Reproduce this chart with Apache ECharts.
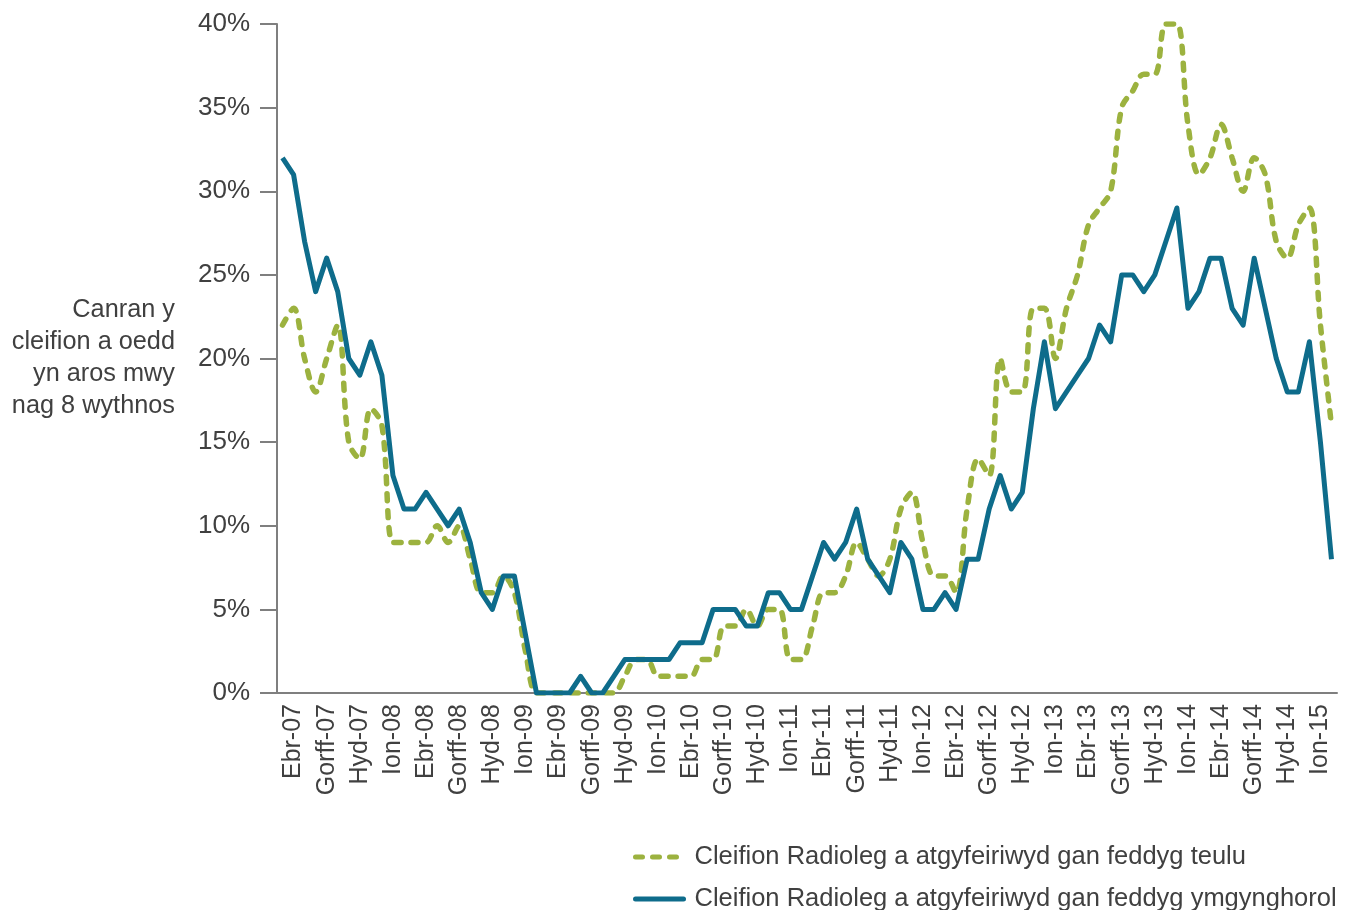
<!DOCTYPE html>
<html>
<head>
<meta charset="utf-8">
<title>Cleifion Radioleg</title>
<script src="https://cdn.jsdelivr.net/npm/echarts@6/dist/echarts.min.js"></script>
<style>
  html, body { margin: 0; padding: 0; background: #fff; }
  #chart { width: 1349px; height: 910px; }
</style>
</head>
<body>
<div id="chart"></div>
<script>
// months Maw-07 .. Chwef-15
const CATEGORIES = [
  'Maw-07', 'Ebr-07', 'Mai-07', 'Meh-07', 'Gorff-07', 'Awst-07', 'Medi-07', 'Hyd-07', 'Tach-07', 'Rhag-07',
  'Ion-08', 'Chwef-08', 'Maw-08', 'Ebr-08', 'Mai-08', 'Meh-08', 'Gorff-08', 'Awst-08', 'Medi-08', 'Hyd-08', 'Tach-08', 'Rhag-08',
  'Ion-09', 'Chwef-09', 'Maw-09', 'Ebr-09', 'Mai-09', 'Meh-09', 'Gorff-09', 'Awst-09', 'Medi-09', 'Hyd-09', 'Tach-09', 'Rhag-09',
  'Ion-10', 'Chwef-10', 'Maw-10', 'Ebr-10', 'Mai-10', 'Meh-10', 'Gorff-10', 'Awst-10', 'Medi-10', 'Hyd-10', 'Tach-10', 'Rhag-10',
  'Ion-11', 'Chwef-11', 'Maw-11', 'Ebr-11', 'Mai-11', 'Meh-11', 'Gorff-11', 'Awst-11', 'Medi-11', 'Hyd-11', 'Tach-11', 'Rhag-11',
  'Ion-12', 'Chwef-12', 'Maw-12', 'Ebr-12', 'Mai-12', 'Meh-12', 'Gorff-12', 'Awst-12', 'Medi-12', 'Hyd-12', 'Tach-12', 'Rhag-12',
  'Ion-13', 'Chwef-13', 'Maw-13', 'Ebr-13', 'Mai-13', 'Meh-13', 'Gorff-13', 'Awst-13', 'Medi-13', 'Hyd-13', 'Tach-13', 'Rhag-13',
  'Ion-14', 'Chwef-14', 'Maw-14', 'Ebr-14', 'Mai-14', 'Meh-14', 'Gorff-14', 'Awst-14', 'Medi-14', 'Hyd-14', 'Tach-14', 'Rhag-14',
  'Ion-15', 'Chwef-15',
]

// % waiting more than 8 weeks
const TEULU = [
  22, 23, 20, 18, 20, 22, 15, 14, 17, 16,
  9, 9, 9, 9, 10, 9, 10, 8, 6, 6,
  7, 6, 2.5, 0, 0, 0, 0, 0, 0, 0,
  0, 1, 2, 2, 1, 1, 1, 1, 2, 2,
  4, 4, 5, 4, 5, 5, 2, 2, 4, 6,
  6, 7, 9, 8, 7, 8, 11, 12, 9, 7,
  7, 6, 11, 14, 13, 20, 18, 18, 23, 23,
  20, 23, 25, 28, 29, 30, 35, 36, 37, 37,
  40, 40, 34, 31, 32, 34, 32, 30, 32, 31,
  27, 26, 28, 29, 22, 16,
]
const YMGYNGHOROL = [
  32, 31, 27, 24, 26, 24, 20, 19, 21, 19,
  13, 11, 11, 12, 11, 10, 11, 9, 6, 5,
  7, 7, 3.5, 0, 0, 0, 0, 1, 0, 0,
  1, 2, 2, 2, 2, 2, 3, 3, 3, 5,
  5, 5, 4, 4, 6, 6, 5, 5, 7, 9,
  8, 9, 11, 8, 7, 6, 9, 8, 5, 5,
  6, 5, 8, 8, 11, 13, 11, 12, 17, 21,
  17, 18, 19, 20, 22, 21, 25, 25, 24, 25,
  27, 29, 23, 24, 26, 26, 23, 22, 26, 23,
  20, 18, 18, 21, 15, 8,
]

const Y_TICKS = [0, 5, 10, 15, 20, 25, 30, 35, 40]
const NAME_TEULU = 'Cleifion Radioleg a atgyfeiriwyd gan feddyg teulu'
const NAME_YMG = 'Cleifion Radioleg a atgyfeiriwyd gan feddyg ymgynghorol'
const Y_TITLE = 'Canran y\ncleifion a oedd\nyn aros mwy\nnag 8 wythnos'

const FONT = "'Liberation Sans', Arial, sans-serif"
const TEXT = '#404040'
const AXIS = '#7f7f7f'
const GREEN = '#9cb23f'
const BLUE = '#0e6c8b'

// one legend block per row, so the rows never wrap into columns
function legendRow(name, top) {
  return {
    data: [name],
    left: 633,
    top: top,
    padding: 0,
    itemWidth: 48,
    itemHeight: 14,
    itemStyle: { opacity: 0 },
    lineStyle: { width: 5, cap: 'round' },
    textStyle: { color: TEXT, fontSize: 25.5, fontFamily: FONT, lineHeight: 26, padding: [0, 0, 0, 6] },
  }
}

function makeOption() {
  return {
    animation: false,
    color: [GREEN, BLUE],
    textStyle: { fontFamily: FONT },
    grid: { left: 277, right: 12, top: 24, bottom: 217, outerBoundsMode: 'none' },
    legend: [legendRow(NAME_TEULU, 844), legendRow(NAME_YMG, 886)],
    xAxis: {
      type: 'category',
      data: CATEGORIES,
      boundaryGap: true,
      axisLine: { lineStyle: { color: AXIS, width: 2 } },
      axisTick: { show: false },
      axisLabel: {
        rotate: 90,
        margin: 11,
        color: TEXT,
        fontSize: 25,
        fontFamily: FONT,
        interval: (idx) => idx % 3 === 1,
      },
    },
    yAxis: {
      type: 'value',
      min: Y_TICKS[0],
      max: Y_TICKS[Y_TICKS.length - 1],
      interval: 5,
      name: Y_TITLE,
      nameLocation: 'middle',
      nameRotate: 0,
      nameGap: 102,
      nameTextStyle: { color: TEXT, fontSize: 25.3, fontFamily: FONT, align: 'right', lineHeight: 32 },
      axisLine: { show: true, lineStyle: { color: AXIS, width: 2 } },
      axisTick: { show: true, length: 17, lineStyle: { color: AXIS, width: 2 } },
      splitLine: { show: false },
      axisLabel: { color: TEXT, fontSize: 26, fontFamily: FONT, margin: 27, formatter: '{value}%' },
    },
    series: [
      {
        name: NAME_TEULU,
        type: 'line',
        data: TEULU,
        smooth: 0.35,
        symbol: 'none',
        z: 2,
        lineStyle: { color: GREEN, width: 5.5, type: [7, 10], cap: 'round' },
      },
      {
        name: NAME_YMG,
        type: 'line',
        data: YMGYNGHOROL,
        symbol: 'none',
        z: 3,
        lineStyle: { color: BLUE, width: 5, join: 'round' },
      },
    ],
  }
}

const chart = echarts.init(document.getElementById('chart'))
chart.setOption(makeOption())

window.addEventListener('resize', () => chart.resize())
</script>
</body>
</html>
